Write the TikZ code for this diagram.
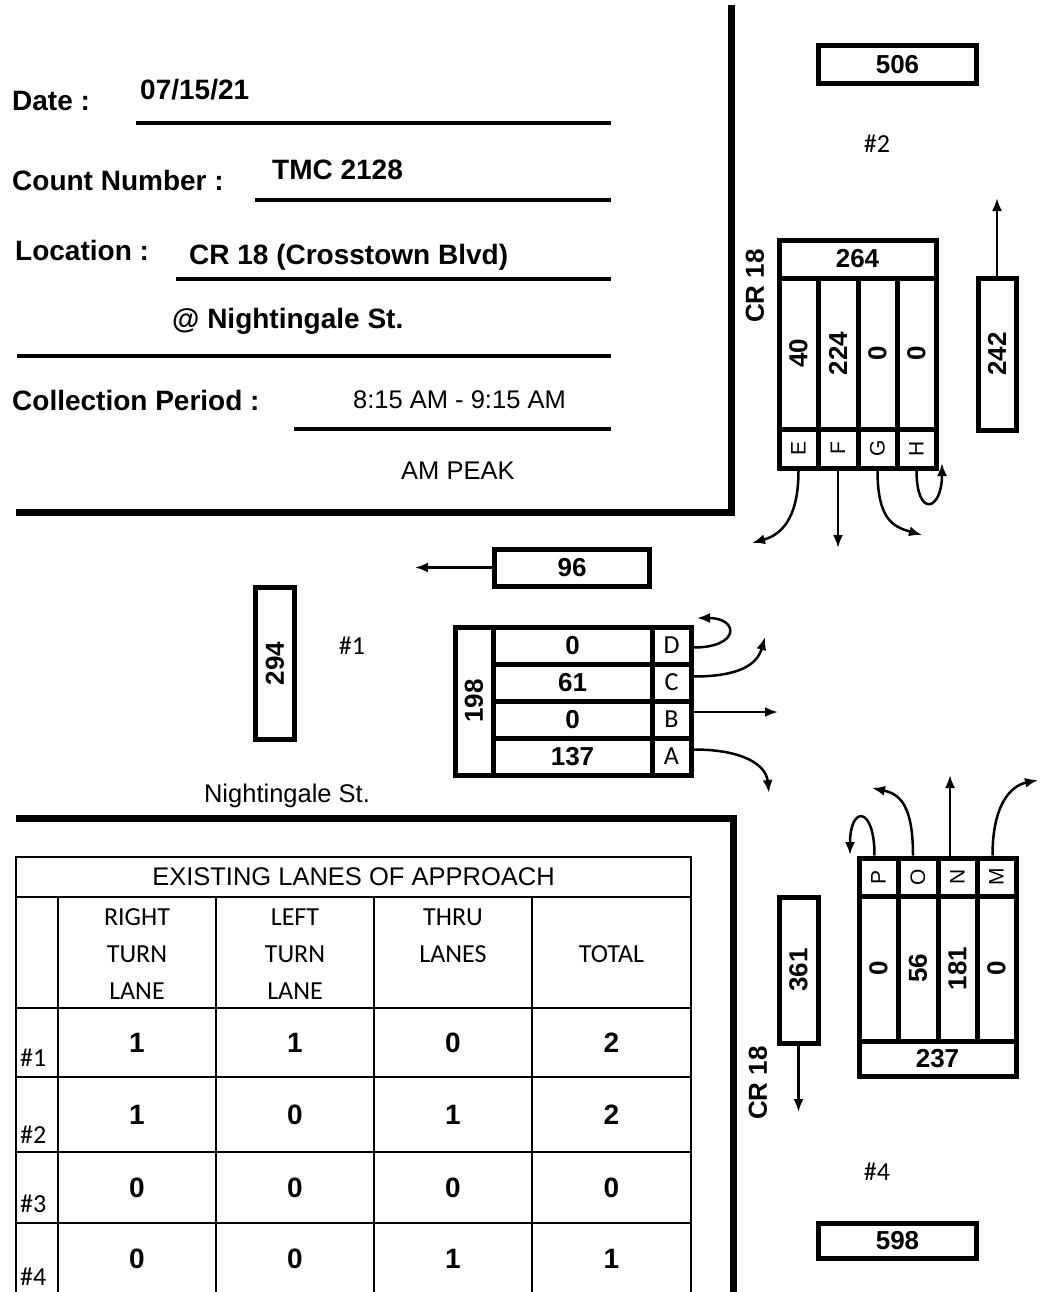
\documentclass[tikz,border=0pt]{standalone}
\usepackage{fontspec}
\setmainfont{Liberation Sans}
\newfontfamily\calfont{Carlito}
\usetikzlibrary{arrows.meta}
\newcommand\myNum{\fontsize{26}{30}\selectfont\bfseries}
\newcommand\myHdr{\fontsize{28}{32}\selectfont\bfseries}
\newcommand\myReg{\fontsize{25.5}{30}\selectfont}
\newcommand\myLet{\fontsize{21}{24}\selectfont}
\newcommand\myCal{\calfont\fontsize{26}{37}\selectfont}
\newcommand\myTnum{\fontsize{28}{32}\selectfont\bfseries}
\newcommand\rb[1]{\rotatebox{90}{#1}}
\begin{document}
\begin{tikzpicture}[x=1pt, y=-1pt,
  box/.style={draw, line width=5pt, inner sep=0pt, font=\myNum, align=center},
  sz/.style 2 args={minimum width=#1pt, minimum height=#2pt},
  hdr/.style={anchor=base west, inner sep=0pt, font=\myHdr},
  rulel/.style={line width=4pt},
  road/.style={line width=7pt},
  arr/.style={line width=2.5pt, -{Latex[length=13pt,width=10pt]}},
  tgrid/.style={line width=1.6pt},
  lbl/.style={inner sep=0pt, font=\myCal},
  tnum/.style={inner sep=0pt, font=\myTnum}]
\useasboundingbox (0,0) rectangle (1053,1292);

% ---------- header ----------
\node[hdr] (date) at (12,111) {Date :};
\node[hdr] (dateval) at (140,100) {07/15/21};
\node[hdr] (cnt) at (12,190) {Count Number :};
\node[hdr] (cntval) at (272,179) {TMC 2128};
\node[hdr] (loc) at (15,260) {Location :};
\node[hdr] (locval) at (189,264) {CR 18 (Crosstown Blvd)};
\node[hdr] (loc2) at (172,328) {@ Nightingale St.};
\node[hdr] (cp) at (12,410) {Collection Period :};
\node[hdr, font=\myReg] (cpval) at (353,408) {8:15 AM - 9:15 AM};
\node[hdr, font=\myReg] (peak) at (401,479) {AM PEAK};

\draw[rulel] (136,123) -- (611,123);
\draw[rulel] (255,200) -- (611,200);
\draw[rulel] (176,279) -- (611,279);
\draw[rulel] (17,356) -- (611,356);
\draw[rulel] (294,429) -- (611,429);

% ---------- roads ----------
\draw[road] (731,5) -- (731,512) -- (16,512);
\draw[road] (16,818) -- (733,818) -- (733,1292);

% ---------- approach #2 ----------
\node[box, sz={158}{38}] (n506) at (897.5,65) {506};
\node[lbl] (l2) at (877,144) {\#2};
\node[box, sz={157}{38}] (n264) at (857.5,259) {264};
\node[box, sz={39}{151}] (vE) at (798.5,353.5) {\rb{40}};
\node[box, sz={40}{151}] (vF) at (838,353.5) {\rb{224}};
\node[box, sz={39}{151}] (vG) at (877.5,353.5) {\rb{0}};
\node[box, sz={39}{151}] (vH) at (916.5,353.5) {\rb{0}};
\node[box, sz={39}{39}, font=\myLet] (E) at (798.5,448.5) {\rb{E}};
\node[box, sz={40}{39}, font=\myLet] (F) at (838,448.5) {\rb{F}};
\node[box, sz={39}{39}, font=\myLet] (G) at (877.5,448.5) {\rb{G}};
\node[box, sz={39}{39}, font=\myLet] (H) at (916.5,448.5) {\rb{H}};
\node[box, sz={38}{152}] (n242) at (997,354) {\rb{242}};
\node[inner sep=0pt, font=\myNum] (cr1) at (755,286) {\rb{CR 18}};
\coordinate (t242) at (997,198);
\coordinate (tE) at (752,543);
\coordinate (tF) at (838,548);
\coordinate (tG) at (922,535);
\coordinate (tH) at (942,463);
\draw[arr] (n242.north) -- (t242);
\draw[arr] (E.south) .. controls +(0,50) and +(28,-8) .. (tE);
\draw[arr] (F.south) -- (tF);
\draw[arr] (G.south) .. controls +(0,50) and +(-28,-8) .. (tG);
\draw[arr] (H.south) .. controls +(0,48) and +(0,48) .. (tH);

% ---------- approach #1 ----------
\node[box, sz={155}{37}] (n96) at (572,567.5) {96};
\coordinate (t96) at (415,567.5);
\draw[arr] (n96.west) -- (t96);
\node[box, sz={39}{152}] (n294) at (275,663.5) {\rb{294}};
\node[lbl] (l1) at (352,646) {\#1};
\node[box, sz={38}{148}] (n198) at (474,701) {\rb{198}};
\node[box, sz={159}{37}] (vD) at (572.5,645.5) {0};
\node[box, sz={159}{37}] (vC) at (572.5,682.5) {61};
\node[box, sz={159}{37}] (vB) at (572.5,719.5) {0};
\node[box, sz={159}{37}] (vA) at (572.5,756.5) {137};
\node[box, sz={39}{37}, font=\myCal] (D) at (671.5,645.5) {D};
\node[box, sz={39}{37}, font=\myCal] (C) at (671.5,682.5) {C};
\node[box, sz={39}{37}, font=\myCal] (B) at (671.5,719.5) {B};
\node[box, sz={39}{37}, font=\myCal] (A) at (671.5,756.5) {A};
\coordinate (tD) at (697,618);
\coordinate (tC) at (765,637);
\coordinate (tB) at (778,712);
\coordinate (tA) at (769,793);
\draw[arr] ([yshift=-2pt]D.east) .. controls +(47,0) and +(42,0) .. (tD);
\draw[arr] ([yshift=6pt]C.east) .. controls +(45,0) and +(-8,28) .. (tC);
\draw[arr] (B.east |- tB) -- (tB);
\draw[arr] ([yshift=7pt]A.east) .. controls +(50,0) and +(-3,-28) .. (tA);
\node[inner sep=0pt, font=\myReg] (ngs) at (287,796) {Nightingale St.};

% ---------- approach #4 ----------
\node[box, sz={39}{38}, font=\myLet] (P) at (878.5,877) {\rb{P}};
\node[box, sz={40}{38}, font=\myLet] (O) at (918,877) {\rb{O}};
\node[box, sz={39}{38}, font=\myLet] (N) at (957.5,877) {\rb{N}};
\node[box, sz={39}{38}, font=\myLet] (M) at (996.5,877) {\rb{M}};
\node[box, sz={39}{145}] (vP) at (878.5,968.5) {\rb{0}};
\node[box, sz={40}{145}] (vO) at (918,968.5) {\rb{56}};
\node[box, sz={39}{145}] (vN) at (957.5,968.5) {\rb{181}};
\node[box, sz={39}{145}] (vM) at (996.5,968.5) {\rb{0}};
\node[box, sz={157}{35}] (n237) at (937.5,1058.5) {237};
\node[box, sz={39}{146}] (n361) at (798.5,970) {\rb{361}};
\node[inner sep=0pt, font=\myNum] (cr2) at (758,1083) {\rb{CR 18}};
\node[lbl] (l4) at (877,1172) {\#4};
\node[box, sz={158}{35}] (n598) at (897.5,1240.5) {598};
\coordinate (t361) at (798.5,1112);
\coordinate (tP) at (850,855);
\coordinate (tO) at (872,788);
\coordinate (tN) at (950,775);
\coordinate (tM) at (1038,780);
\draw[arr] (n361.south) -- (t361);
\draw[arr] ([xshift=-4pt]P.north) .. controls +(0,-50) and +(0,-50) .. (tP);
\draw[arr] ([xshift=-5pt]O.north) .. controls +(0,-50) and +(28,6) .. (tO);
\draw[arr] (N.north -| tN) -- (tN);
\draw[arr] ([xshift=-4pt]M.north) .. controls +(0,-50) and +(-28,6) .. (tM);

% ---------- table ----------
\draw[tgrid] (16,1292) -- (16,857) -- (691,857) -- (691,1292);
\draw[tgrid] (16,897) -- (691,897);
\draw[tgrid] (16,1008) -- (691,1008);
\draw[tgrid] (16,1077) -- (691,1077);
\draw[tgrid] (16,1152) -- (691,1152);
\draw[tgrid] (16,1223) -- (691,1223);
\foreach \xx in {58,216,374,532} \draw[tgrid] (\xx,897) -- (\xx,1292);
\node[inner sep=0pt, font=\fontsize{25.5}{30}\selectfont] (thead) at (353.5,877) {EXISTING LANES OF APPROACH};
\node[lbl, align=center] (hR) at (137,954) {RIGHT\\TURN\\LANE};
\node[lbl, align=center] (hL) at (295,954) {LEFT\\TURN\\LANE};
\node[lbl, align=center] (hT) at (453,935.5) {THRU\\LANES};
\node[lbl] (hTot) at (611.5,954) {TOTAL};
\node[lbl, anchor=west] (r1) at (20,1058) {\#1};
\node[lbl, anchor=west] (r2) at (20,1135) {\#2};
\node[lbl, anchor=west] (r3) at (20,1204) {\#3};
\node[lbl, anchor=west] (r4) at (20,1277) {\#4};
\node[tnum] (a11) at (137,1043) {1};
\node[tnum] (a12) at (295,1043) {1};
\node[tnum] (a13) at (453,1043) {0};
\node[tnum] (a14) at (611.5,1043) {2};
\node[tnum] (a21) at (137,1115) {1};
\node[tnum] (a22) at (295,1115) {0};
\node[tnum] (a23) at (453,1115) {1};
\node[tnum] (a24) at (611.5,1115) {2};
\node[tnum] (a31) at (137,1188) {0};
\node[tnum] (a32) at (295,1188) {0};
\node[tnum] (a33) at (453,1188) {0};
\node[tnum] (a34) at (611.5,1188) {0};
\node[tnum] (a41) at (137,1259) {0};
\node[tnum] (a42) at (295,1259) {0};
\node[tnum] (a43) at (453,1259) {1};
\node[tnum] (a44) at (611.5,1259) {1};
\end{tikzpicture}
\end{document}
